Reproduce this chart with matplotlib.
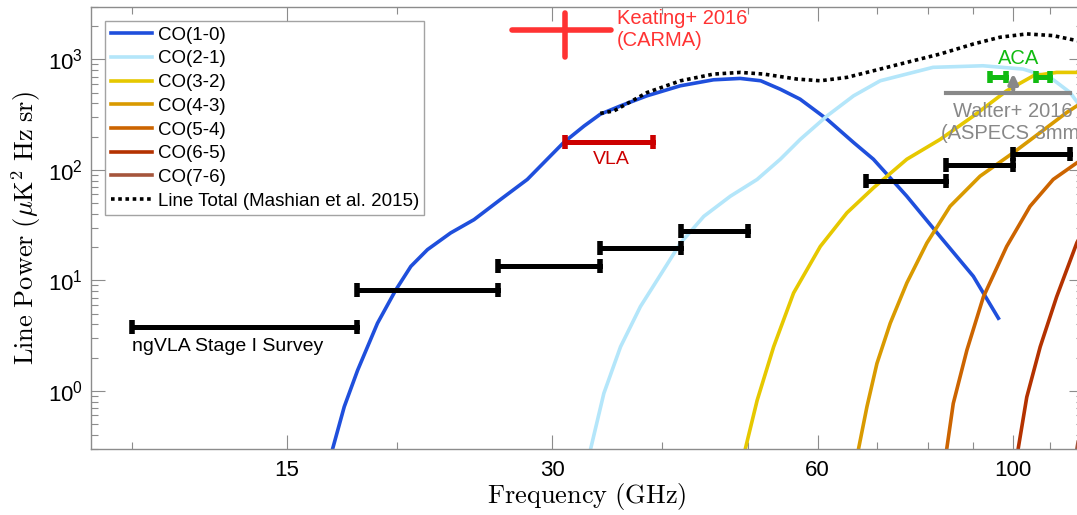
import matplotlib
matplotlib.use("Agg")
import matplotlib.pyplot as plt
from matplotlib.ticker import FixedLocator, FixedFormatter, NullFormatter, LogLocator

plt.rcParams['font.family'] = ['Liberation Sans', 'DejaVu Sans']
plt.rcParams['mathtext.fontset'] = 'cm'

# CO line power spectra (frequency in GHz, power in uK^2 Hz sr)
co10_f = [16.5, 16.9, 17.42, 18.04, 19.0, 19.93, 20.73, 21.65, 23.0, 24.45, 26.2, 28.1, 29.6, 30.9, 32.6,
          34.0, 35.85, 38.4, 41.9, 45.7, 49.0, 51.7, 54.4, 57.3, 61.5, 65.9, 69.4, 75.7, 82.6, 90.1, 96.2]
co10_p = [0.15, 0.30, 0.72, 1.54, 4.1, 8.2, 13.4, 19.0, 26.9, 35.5, 54, 82, 125, 177, 250,
          319, 380, 468, 577, 654, 673, 641, 538, 437, 287, 177, 125, 58, 25, 10.9, 4.55]
co21_f = [32.8, 33.16, 34.32, 35.85, 37.76, 40.13, 41.93, 44.56, 47.76, 51.22, 54.42, 57.33, 61.48,
          65.89, 70.65, 81.1, 92.4, 102.6, 110.1, 116.0, 122.2]
co21_p = [0.2, 0.30, 0.95, 2.51, 5.8, 12.5, 21.8, 38, 57.8, 82, 125, 189, 308,
          468, 641, 848, 876, 818, 688, 502, 287]
co32_f = [49.3, 49.67, 51.22, 53.48, 56.34, 60.41, 64.76, 69.42, 75.74, 82.63, 90.14, 98.3, 105.4, 112.0, 118.1, 123]
co32_p = [0.2, 0.30, 0.82, 2.51, 7.7, 20.3, 40.9, 68.9, 125, 189, 308, 520, 711, 763, 763, 750]
co43_f = [66.3, 66.76, 68.24, 70.04, 72.52, 75.74, 79.8, 84.8, 91.7, 100.0, 107.3, 115.0, 118.1, 122]
co43_p = [0.2, 0.30, 0.72, 1.77, 4.1, 9.5, 21.8, 46.9, 87.8, 143, 218, 331, 380, 440]
co54_f = [83.6, 84.06, 85.5, 88.6, 92.5, 98.3, 104.5, 111.0, 118.1, 122]
co54_p = [0.2, 0.30, 0.77, 2.34, 7.1, 20.3, 46.9, 82, 116, 135]
co65_f = [100.8, 101.3, 103.6, 107.3, 112.0, 118.1, 122]
co65_p = [0.2, 0.30, 0.88, 2.51, 7.1, 22, 35]
co76_f = [117.5, 118.1, 120.8, 124]
co76_p = [0.2, 0.3, 0.88, 2.5]
total_f = [34.0, 35.24, 38.43, 41.93, 45.73, 49.02, 52.1, 56.84, 60.41, 64.76, 69.42, 75.74, 82.63,
           90.14, 96.6, 103.6, 111.0, 118.1, 122]
total_p = [325, 342, 502, 641, 737, 763, 737, 664, 641, 688, 790, 941, 1120,
           1380, 1588, 1701, 1642, 1479, 1420]

# ngVLA survey sensitivity bins
ngvla_lo = [10, 18, 26, 34, 42, 68, 84, 100]
ngvla_hi = [18, 26, 34, 42, 50, 84, 100, 116]
ngvla_p = [3.8, 8.2, 13.6, 19.7, 27.8, 79, 110, 138]

vla_lo, vla_hi, vla_p = 31, 39, 180
keating_f, keating_lo, keating_hi, keating_p, keating_err = 31, 27, 35, 1850, 800
aca_lo = [94, 106]
aca_hi = [98, 110]
aca_p = 690
walter_lo, walter_hi, walter_p, walter_arrow_f, walter_arrow_top = 84, 116, 500, 100, 790

curves = [
    (co10_f, co10_p, '#1f4fdc', 'CO(1-0)'),
    (co21_f, co21_p, '#b4e6fa', 'CO(2-1)'),
    (co32_f, co32_p, '#e6c800', 'CO(3-2)'),
    (co43_f, co43_p, '#d99a00', 'CO(4-3)'),
    (co54_f, co54_p, '#cc6400', 'CO(5-4)'),
    (co65_f, co65_p, '#b43200', 'CO(6-5)'),
    (co76_f, co76_p, '#a5553c', 'CO(7-6)'),
]

fig = plt.figure(figsize=(10.77, 5.15), dpi=100)
ax = fig.add_axes([0.0849, 0.1287, 0.9207, 0.8583])

for f, p, c, lab in curves:
    ax.plot(f, p, color=c, lw=2.6, label=lab)
ax.plot(total_f, total_p, color='black', lw=2.6, ls=(0, (1, 1)), label='Line Total (Mashian et al. 2015)')

for lo, hi, p in zip(ngvla_lo, ngvla_hi, ngvla_p):
    ax.plot([lo, hi], [p, p], color='black', lw=3.6, marker='|', ms=10, mew=4)
ax.text(ngvla_lo[0], 2.5, 'ngVLA Stage I Survey', fontsize=14, va='center', ha='left')

ax.plot([vla_lo, vla_hi], [vla_p, vla_p], color='#cc0000', lw=3.6, marker='|', ms=10, mew=4)
ax.text(35, 125, 'VLA', color='#cc0000', fontsize=14, ha='center', va='center')

ax.plot([keating_lo, keating_hi], [keating_p, keating_p], color='#ff3333', lw=4, solid_capstyle='round')
ax.plot([keating_f, keating_f], [keating_p - keating_err, keating_p + keating_err], color='#ff3333', lw=4,
        solid_capstyle='round')
ax.text(35.5, 1880, 'Keating+ 2016\n(CARMA)', color='#ff3333', fontsize=14.5, ha='left', va='center')

for lo, hi in zip(aca_lo, aca_hi):
    ax.plot([lo, hi], [aca_p, aca_p], color='#11bb11', lw=3.6, marker='|', ms=9, mew=4)
ax.text(101.5, 1030, 'ACA', color='#11bb11', fontsize=14.5, ha='center', va='center')

ax.plot([walter_lo, walter_hi], [walter_p, walter_p], color='#888888', lw=3)
ax.annotate('', xy=(walter_arrow_f, walter_arrow_top), xytext=(walter_arrow_f, walter_p),
            arrowprops=dict(arrowstyle='-|>', color='#888888', lw=3, mutation_scale=14))
ax.text(100, 268, 'Walter+ 2016\n(ASPECS 3mm)', color='#888888', fontsize=14.5, ha='center', va='center')

ax.set_xscale('log')
ax.set_yscale('log')
ax.set_xlim(9, 120)
ax.set_ylim(0.3, 3000)

ax.xaxis.set_major_locator(FixedLocator([15, 30, 60, 100]))
ax.xaxis.set_major_formatter(FixedFormatter(['15', '30', '60', '100']))
ax.xaxis.set_minor_locator(FixedLocator([10, 20, 40, 50, 70, 80, 90, 110]))
ax.xaxis.set_minor_formatter(NullFormatter())
ax.yaxis.set_major_locator(LogLocator(base=10, numticks=10))
ax.yaxis.set_minor_locator(LogLocator(base=10, subs=range(2, 10), numticks=10))
ax.yaxis.set_minor_formatter(NullFormatter())

ax.tick_params(which='both', direction='in', top=True, right=True, color='#8c8c8c', labelsize=16)
ax.tick_params(which='major', length=10, width=0.8)
ax.tick_params(axis='x', which='major', pad=8)
ax.tick_params(axis='y', which='major', pad=6)
ax.tick_params(which='minor', length=5, width=0.8)
for s in ax.spines.values():
    s.set_color('#8c8c8c')
    s.set_linewidth(1)

ax.set_xlabel(r'$\mathrm{Frequency\ (GHz)}$', fontsize=19, labelpad=0)
ax.set_ylabel(r'$\mathrm{Line\ Power\ (}\mu\mathrm{K^2\ Hz\ sr)}$', fontsize=19, labelpad=4)

leg = ax.legend(loc='upper left', bbox_to_anchor=(0.0137, 0.9676), borderaxespad=0, fontsize=13.5,
                frameon=True, fancybox=False, edgecolor='#8c8c8c', labelspacing=0.35, handlelength=2.2,
                handletextpad=0.3, borderpad=0.3)
leg.get_frame().set_linewidth(1)

fig.savefig('out.png', dpi=100)
